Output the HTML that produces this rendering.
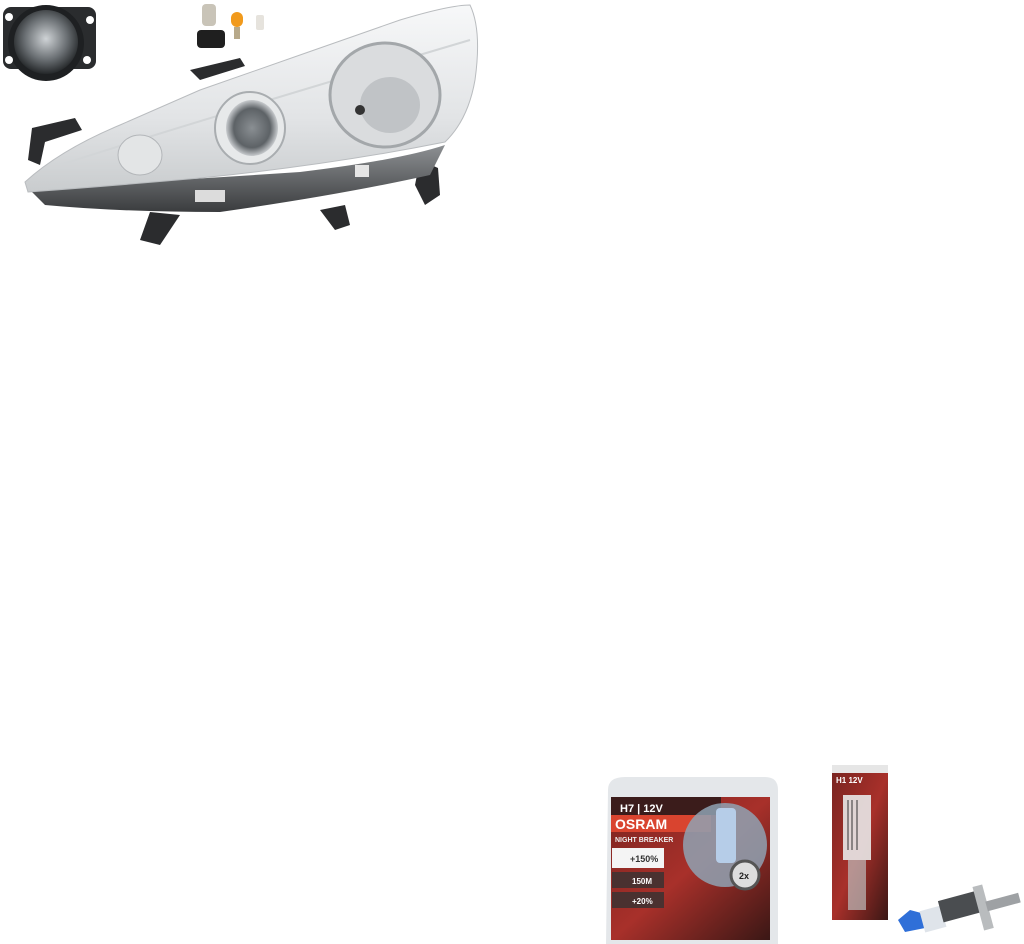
<!DOCTYPE html>
<html><head><meta charset="utf-8"><style>
html,body{margin:0;padding:0;background:#fff;width:1024px;height:944px;overflow:hidden}
svg{display:block}
text{font-family:"Liberation Sans",sans-serif;font-weight:bold}
</style></head><body>
<svg width="1024" height="944" viewBox="0 0 1024 944">
<defs>
<radialGradient id="fog" cx="50%" cy="45%" r="55%"><stop offset="0" stop-color="#cfd3d6"/><stop offset="0.6" stop-color="#6a6f73"/><stop offset="1" stop-color="#25282a"/></radialGradient>
<linearGradient id="lens" x1="0" y1="0" x2="0" y2="1"><stop offset="0" stop-color="#f7f8f9"/><stop offset="0.6" stop-color="#e2e4e6"/><stop offset="1" stop-color="#c9ccce"/></linearGradient>
<radialGradient id="proj" cx="50%" cy="50%" r="50%"><stop offset="0" stop-color="#8a8f93"/><stop offset="0.7" stop-color="#5d6266"/><stop offset="1" stop-color="#c8cbce"/></radialGradient>
<linearGradient id="red" x1="0" y1="0" x2="1" y2="1"><stop offset="0" stop-color="#7a2420"/><stop offset="0.5" stop-color="#a8302a"/><stop offset="1" stop-color="#3a1715"/></linearGradient>
<linearGradient id="band" x1="0" y1="0" x2="0" y2="1"><stop offset="0" stop-color="#8d9093"/><stop offset="1" stop-color="#3a3c3e"/></linearGradient>
</defs>
<!-- fog lamp -->
<rect x="3" y="7" width="93" height="62" rx="8" fill="#2a2c2e"/>
<circle cx="46" cy="43" r="38" fill="#1e2022"/>
<circle cx="46" cy="42" r="32" fill="url(#fog)"/>
<circle cx="9" cy="17" r="4" fill="#fff"/><circle cx="90" cy="20" r="4" fill="#fff"/><circle cx="9" cy="60" r="4" fill="#fff"/><circle cx="87" cy="60" r="4" fill="#fff"/>
<!-- bulbs -->
<rect x="202" y="4" width="14" height="22" rx="4" fill="#c9c4b8"/>
<rect x="197" y="30" width="28" height="18" rx="4" fill="#1f1f1f"/>
<rect x="231" y="12" width="12" height="15" rx="6" fill="#f19a1c"/>
<rect x="234" y="27" width="6" height="12" fill="#b7a98a"/>
<rect x="256" y="15" width="8" height="15" rx="2" fill="#e6e3dd"/>
<!-- brackets -->
<path d="M28,160 L32,128 L75,118 L82,130 L45,142 L40,165 Z" fill="#2b2c2e"/>
<path d="M190,70 L240,58 L245,66 L200,80 Z" fill="#2b2c2e"/>
<path d="M420,160 L438,168 L440,195 L425,205 L415,185 Z" fill="#2b2c2e"/>
<path d="M140,240 L150,212 L180,215 L160,245 Z" fill="#2b2c2e"/>
<path d="M320,210 L345,205 L350,225 L335,230 Z" fill="#2b2c2e"/>
<!-- bottom band -->
<path d="M28,188 Q150,182 300,172 Q400,160 445,145 L430,175 Q340,195 220,212 Q120,212 45,205 Z" fill="url(#band)"/>
<!-- lens -->
<path d="M25,182 Q60,150 120,125 L200,90 L300,55 L400,20 Q450,5 470,5 Q482,30 475,80 Q468,120 445,142 Q330,165 200,178 Q110,186 28,192 Z" fill="url(#lens)" stroke="#b9bcbf"/>
<path d="M60,165 Q200,120 470,40" stroke="#d2d5d7" stroke-width="2" fill="none"/>
<ellipse cx="385" cy="95" rx="55" ry="52" fill="#dadcde" stroke="#a3a7aa" stroke-width="3"/>
<ellipse cx="390" cy="105" rx="30" ry="28" fill="#c0c3c6"/>
<circle cx="360" cy="110" r="5" fill="#333"/>
<ellipse cx="250" cy="128" rx="35" ry="36" fill="#e7e9ea" stroke="#a9adb0" stroke-width="2"/>
<ellipse cx="252" cy="128" rx="26" ry="28" fill="url(#proj)"/>
<ellipse cx="140" cy="155" rx="22" ry="20" fill="#e3e5e6" stroke="#b3b6b9"/>
<rect x="195" y="190" width="30" height="12" fill="#dcdcdc"/>
<rect x="355" y="165" width="14" height="12" fill="#e5e5e5"/>
<!-- OSRAM box -->
<path d="M608,790 Q608,777 625,777 L765,777 Q778,777 778,790 L778,944 L606,944 Z" fill="#e4e7ea"/>
<path d="M611,797 L770,797 L770,940 L611,940 Z" fill="url(#red)"/>
<rect x="611" y="797" width="110" height="18" fill="#3b1c1b"/>
<text x="620" y="812" font-size="11" fill="#fff">H7 | 12V</text>
<rect x="611" y="815" width="100" height="17" fill="#d9442f"/>
<text x="615" y="829" font-size="14" fill="#fff">OSRAM</text>
<text x="615" y="842" font-size="7" fill="#eee">NIGHT BREAKER</text>
<circle cx="725" cy="845" r="42" fill="#8fa2b3" opacity="0.85"/>
<rect x="716" y="808" width="20" height="55" rx="4" fill="#b6cde8"/>
<rect x="612" y="848" width="52" height="20" fill="#f4f4f4"/>
<text x="630" y="862" font-size="9" fill="#333">+150%</text>
<rect x="612" y="872" width="52" height="16" fill="#4a3130"/>
<text x="632" y="884" font-size="8" fill="#fff">150M</text>
<rect x="612" y="892" width="52" height="16" fill="#4a3130"/>
<text x="632" y="904" font-size="8" fill="#fff">+20%</text>
<circle cx="745" cy="875" r="14" fill="#ddd" stroke="#555" stroke-width="3"/>
<text x="739" y="879" font-size="9" fill="#222">2x</text>
<!-- H1 box -->
<rect x="832" y="765" width="56" height="8" fill="#e6e6e6"/>
<rect x="832" y="773" width="56" height="147" fill="url(#red)"/>
<text x="836" y="783" font-size="8" fill="#fff">H1 12V</text>
<rect x="843" y="795" width="28" height="65" fill="#e8e8e8" opacity="0.9"/>
<g stroke="#333" stroke-width="1"><line x1="848" y1="800" x2="848" y2="850"/><line x1="852" y1="800" x2="852" y2="850"/><line x1="857" y1="800" x2="857" y2="850"/></g>
<rect x="848" y="860" width="18" height="50" fill="#bdbdbd" opacity="0.7"/>
<!-- H1 bulb -->
<path d="M898,920 L910,910 L925,914 L925,928 L905,932 Z" fill="#2f6fd8"/>
<rect x="922" y="908" width="22" height="22" fill="#dfe4ea" transform="rotate(-15 933 919)"/>
<rect x="940" y="895" width="45" height="22" fill="#4a4d50" transform="rotate(-15 962 906)"/>
<rect x="978" y="885" width="10" height="45" fill="#b9bcbe" transform="rotate(-15 983 907)"/>
<rect x="986" y="897" width="34" height="10" fill="#9ea1a4" transform="rotate(-15 1003 902)"/>
</svg>
</body></html>
